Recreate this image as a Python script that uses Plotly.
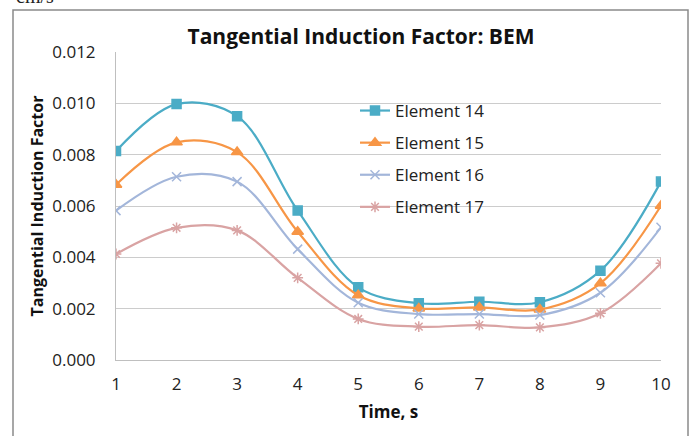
import plotly.graph_objects as go

# Time steps and tangential induction factor per blade element
time_s = [1, 2, 3, 4, 5, 6, 7, 8, 9, 10]
element_14 = [0.00814, 0.00997, 0.00950, 0.00582, 0.00283, 0.00221, 0.00227, 0.00225, 0.00348, 0.00695]
element_15 = [0.00683, 0.00848, 0.00810, 0.00500, 0.00252, 0.00201, 0.00205, 0.00197, 0.00299, 0.00601]
element_16 = [0.00582, 0.00714, 0.00695, 0.00432, 0.00223, 0.00179, 0.00179, 0.00175, 0.00262, 0.00517]
element_17 = [0.00413, 0.00515, 0.00505, 0.00320, 0.00160, 0.00130, 0.00136, 0.00127, 0.00182, 0.00377]

series = [
    ("Element 14", element_14, "#4BACC6", "square", 9),
    ("Element 15", element_15, "#F79646", "triangle-up", 10),
    ("Element 16", element_16, "#A3B6DA", "x-thin", 9),
    ("Element 17", element_17, "#D9A3A3", "asterisk", 9),
]

FONT = "Open Sans"

fig = go.Figure()
for name, vals, color, symbol, size in series:
    fig.add_trace(go.Scatter(
        x=time_s, y=vals, name=name, legendgroup=name,
        mode="lines+markers",
        line=dict(color=color, width=2.2, shape="spline", smoothing=1.0),
        marker=dict(symbol=symbol, size=size, color=color,
                    line=dict(color=color, width=1.5)),
    ))

# Plot area spans x 116..661 px and y 52..360 px
L, R, T, B = 116, 35, 52, 76
W, H = 696, 436
pw, ph = W - L - R, H - T - B

def px(xp):
    return (xp - L) / pw

def py(yp):
    return (H - B - yp) / ph

fig.update_layout(
    width=W, height=H,
    margin=dict(l=L, r=R, t=T, b=B),
    paper_bgcolor="white", plot_bgcolor="white",
    font=dict(family=FONT, color="#222222", size=16),
    title=dict(text="<b>Tangential Induction Factor: BEM</b>",
               x=361 / W, xref="container", xanchor="center",
               y=1 - 37 / H, yref="container", yanchor="middle",
               font=dict(family=FONT, size=21, color="#111111")),
    xaxis=dict(range=[1, 10], tickvals=time_s, showgrid=False,
               showline=True, linecolor="#BFBFBF", linewidth=1,
               zeroline=False, ticks="", ticklabelstandoff=9,
               tickfont=dict(size=17, color="#222222"),
               title=dict(text="<b>Time, s</b>", standoff=11,
                          font=dict(size=17, color="#111111"))),
    yaxis=dict(range=[0, 0.012], dtick=0.002, tickformat=".3f",
               showgrid=True, gridcolor="#CCCCCC", gridwidth=1,
               showline=True, linecolor="#BFBFBF", linewidth=1,
               zeroline=False, ticks="", ticklabelstandoff=16,
               tickfont=dict(size=17, color="#222222"),
               title=dict(text="<b>Tangential Induction Factor</b>", standoff=4,
                          font=dict(size=16, color="#111111"))),
    legend=dict(x=px(355), y=py(93), xanchor="left", yanchor="top",
                bgcolor="rgba(0,0,0,0)", tracegroupgap=7,
                font=dict(size=17, color="#222222")),
    showlegend=True,
)

# Outer chart frame
fig.add_shape(type="rect", xref="paper", yref="paper",
              x0=px(13), x1=px(688), y0=py(445), y1=py(10),
              line=dict(color="#8A8A8A", width=1.5), fillcolor="rgba(0,0,0,0)",
              layer="below")

# Units caption above the frame
fig.add_annotation(text="cm/s", xref="paper", yref="paper",
                   x=px(14), y=py(9), xanchor="left", yanchor="bottom",
                   showarrow=False,
                   font=dict(family="Liberation Serif", size=20, color="#222222"))

fig.write_html("out.html")
